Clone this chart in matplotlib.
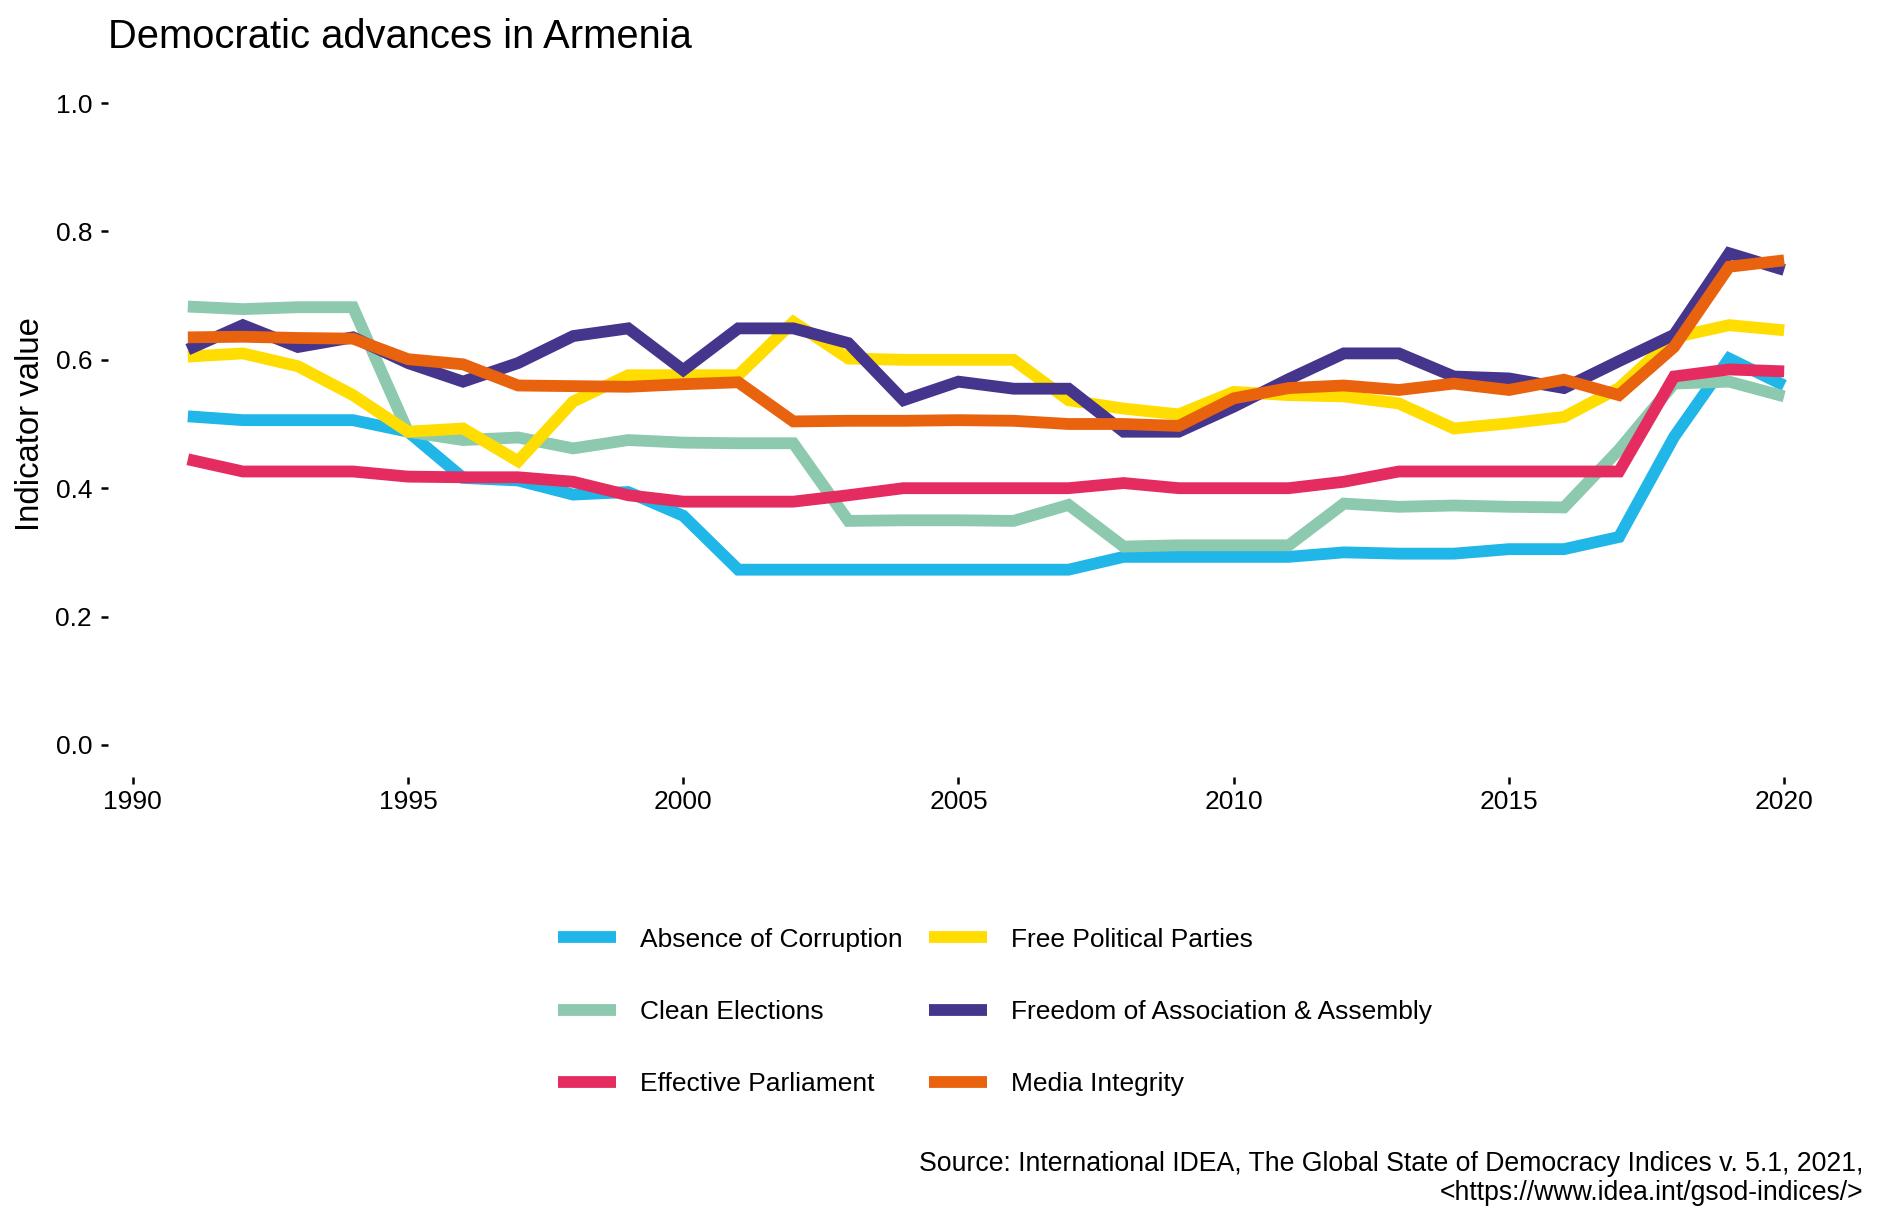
import matplotlib

matplotlib.use("Agg")
import matplotlib.pyplot as plt
import numpy as np

plt.rcParams["font.family"] = ["Liberation Sans", "DejaVu Sans"]

years = list(range(1991, 2021))

absence_corruption = [0.512, 0.506, 0.506, 0.506, 0.488, 0.416, 0.412, 0.390, 0.394, 0.357,
                      0.273, 0.273, 0.273, 0.273, 0.273, 0.273, 0.273, 0.293, 0.293, 0.293,
                      0.293, 0.300, 0.298, 0.298, 0.305, 0.305, 0.324, 0.480, 0.602, 0.560]
clean_elections = [0.683, 0.679, 0.682, 0.682, 0.488, 0.475, 0.479, 0.462, 0.475, 0.471,
                   0.470, 0.470, 0.349, 0.350, 0.350, 0.349, 0.374, 0.309, 0.311, 0.311,
                   0.311, 0.376, 0.371, 0.373, 0.371, 0.370, 0.460, 0.563, 0.566, 0.543]
effective_parliament = [0.445, 0.426, 0.426, 0.426, 0.418, 0.417, 0.417, 0.410, 0.389, 0.379,
                        0.379, 0.379, 0.389, 0.400, 0.400, 0.400, 0.400, 0.408, 0.400, 0.400,
                        0.400, 0.410, 0.426, 0.426, 0.426, 0.426, 0.426, 0.574, 0.585, 0.582]
free_parties = [0.605, 0.610, 0.590, 0.545, 0.488, 0.493, 0.442, 0.535, 0.576, 0.576,
                0.576, 0.659, 0.602, 0.600, 0.600, 0.600, 0.537, 0.524, 0.515, 0.550,
                0.545, 0.543, 0.532, 0.493, 0.501, 0.511, 0.556, 0.635, 0.654, 0.646]
freedom_association = [0.616, 0.654, 0.620, 0.635, 0.595, 0.566, 0.595, 0.637, 0.649, 0.584,
                       0.649, 0.649, 0.626, 0.537, 0.566, 0.555, 0.555, 0.488, 0.488, 0.527,
                       0.570, 0.610, 0.610, 0.574, 0.571, 0.556, 0.598, 0.639, 0.766, 0.740]
media_integrity = [0.635, 0.636, 0.634, 0.633, 0.601, 0.593, 0.560, 0.559, 0.558, 0.562,
                   0.565, 0.504, 0.505, 0.505, 0.506, 0.505, 0.500, 0.500, 0.497, 0.540,
                   0.556, 0.560, 0.553, 0.563, 0.553, 0.569, 0.545, 0.620, 0.745, 0.755]

labels = ["Absence of Corruption", "Clean Elections", "Effective Parliament",
          "Free Political Parties", "Freedom of Association & Assembly", "Media Integrity"]
series = [absence_corruption, clean_elections, effective_parliament,
          free_parties, freedom_association, media_integrity]
colors = ["#20B6E8", "#8CC9AE", "#E42C60", "#FFDD00", "#45358C", "#E9630E"]

W, H = 1881, 1222
fig = plt.figure(figsize=(W / 100, H / 100), dpi=100)
ax = fig.add_axes([108 / W, 1 - 777 / H, (1864 - 108) / W, (777 - 71) / H])

for vals, lab, col in zip(series, labels, colors):
    ax.plot(years, vals, color=col, lw=8.5, label=lab,
            solid_joinstyle="miter", solid_capstyle="butt")

ax.set_xlim(1989.55, 2021.45)
ax.set_ylim(-0.05, 1.05)
ax.set_xticks(np.arange(1990, 2021, 5))
ax.set_yticks(np.arange(0, 1.01, 0.2))
ax.set_yticklabels([f"{v:.1f}" for v in np.arange(0, 1.01, 0.2)])
for s in ax.spines.values():
    s.set_visible(False)
ax.tick_params(axis="both", labelsize=19, length=5, width=1.8, color="black")
ax.tick_params(axis="y", pad=6.5)
ax.tick_params(axis="x", pad=4.3)

fig.text(108 / W, 1 - 48 / H, "Democratic advances in Armenia", fontsize=28.75,
         ha="left", va="baseline")
fig.text(31 / W, 1 - 424 / H, "Indicator value", fontsize=23.7, rotation=90,
         ha="center", va="center")

handles, labs = ax.get_legend_handles_labels()
fig.legend(handles, labs, ncol=2, loc="center", bbox_to_anchor=(995 / W, 1 - 1012 / H),
           frameon=False, fontsize=19, handlelength=2.2, handletextpad=0.9,
           columnspacing=1.0, labelspacing=1.83)

fig.text(1863 / W, 1 - 1164 / H,
         "Source: International IDEA, The Global State of Democracy Indices v. 5.1, 2021,",
         fontsize=19.17, ha="right", va="center")
fig.text(1863 / W, 1 - 1193 / H, "<https://www.idea.int/gsod-indices/>",
         fontsize=19.17, ha="right", va="center")

fig.savefig("out.png", dpi=100, facecolor="white")
